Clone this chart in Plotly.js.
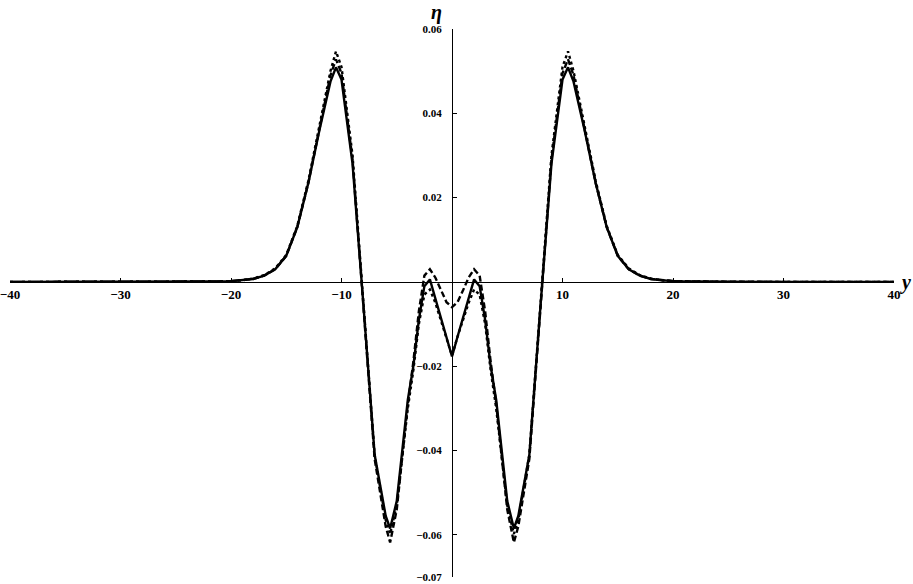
<!DOCTYPE html>
<html>
<head>
<meta charset="utf-8">
<script src="https://cdn.plot.ly/plotly-3.0.1.min.js"></script>
<style>
  html, body { margin: 0; padding: 0; background: #fff; }
  #graph { width: 913px; height: 584px; }
</style>
</head>
<body>
<div id="graph"></div>
<script>
// y の値（共通の横軸）
const yPos = [-40, -35, -30, -25, -22, -20, -19, -18, -17, -16, -15, -14, -13, -12, -11, -10.5, -10, -9, -8, -7, -6, -5.6, -5, -4, -3.5, -3, -2.5, -2, -1.5, -1, -0.5, 0,
  0.5, 1, 1.5, 2, 2.5, 3, 3.5, 4, 5, 5.6, 6, 7, 8, 9, 10, 10.5, 11, 12, 13, 14, 15, 16, 17, 18, 19, 20, 22, 25, 30, 35, 40];

// 実線
const etaSolid = [0, 0, 0, 0, 0.0001, 0.0002, 0.0004, 0.0007, 0.0015, 0.003, 0.0062, 0.013, 0.0235, 0.036, 0.0475, 0.0509, 0.048, 0.028, -0.006, -0.041, -0.0555, -0.0585, -0.052, -0.028, -0.02, -0.009, -0.001, 0.0006, -0.004, -0.0085, -0.013, -0.0177,
  -0.013, -0.0085, -0.004, 0.0006, -0.001, -0.009, -0.02, -0.028, -0.052, -0.0585, -0.0555, -0.041, -0.006, 0.028, 0.048, 0.0509, 0.0475, 0.036, 0.0235, 0.013, 0.0062, 0.003, 0.0015, 0.0007, 0.0004, 0.0002, 0.0001, 0, 0, 0, 0];

// 破線
const etaDashed = [0, 0, 0, 0, 0.0001, 0.0002, 0.0004, 0.0007, 0.0015, 0.003, 0.0062, 0.013, 0.0235, 0.036, 0.049, 0.0528, 0.0495, 0.029, -0.006, -0.042, -0.058, -0.0618, -0.054, -0.029, -0.019, -0.007, 0.0015, 0.003, 0.001, -0.002, -0.0048, -0.006,
  -0.0048, -0.002, 0.001, 0.003, 0.0015, -0.007, -0.019, -0.029, -0.054, -0.0618, -0.058, -0.042, -0.006, 0.029, 0.0495, 0.0528, 0.049, 0.036, 0.0235, 0.013, 0.0062, 0.003, 0.0015, 0.0007, 0.0004, 0.0002, 0.0001, 0, 0, 0, 0];

// 点線
const etaDotted = [0, 0, 0, 0, 0.0001, 0.0002, 0.0004, 0.0008, 0.0016, 0.0032, 0.0064, 0.0133, 0.024, 0.037, 0.050, 0.0547, 0.051, 0.030, -0.006, -0.041, -0.0565, -0.0598, -0.053, -0.030, -0.021, -0.010, -0.003, -0.0018, -0.005, -0.009, -0.013, -0.0175,
  -0.013, -0.009, -0.005, -0.0018, -0.003, -0.010, -0.021, -0.030, -0.053, -0.0598, -0.0565, -0.041, -0.006, 0.030, 0.051, 0.0547, 0.050, 0.037, 0.024, 0.0133, 0.0064, 0.0032, 0.0016, 0.0008, 0.0004, 0.0002, 0.0001, 0, 0, 0, 0];

// 目盛り
const xTicks = [-40, -30, -20, -10, 10, 20, 30, 40];
const xTickText = ["\u221240", "\u221230", "\u221220", "\u221210", "10", "20", "30", "40"];
const yTicks = [-0.07, -0.06, -0.04, -0.02, 0.02, 0.04, 0.06];
const yTickText = ["\u22120.07", "\u22120.06", "\u22120.04", "\u22120.02", "0.02", "0.04", "0.06"];

const serif = "Liberation Serif, DejaVu Serif, serif";

function curve(yv, dash) {
  return {
    x: yPos,
    y: yv,
    mode: "lines",
    type: "scatter",
    line: { color: "black", width: 2.4, dash: dash },
    hoverinfo: "skip",
  };
}

const data = [
  curve(etaDotted, "dot"),
  curve(etaDashed, "6px,3px"),
  curve(etaSolid, "solid"),
];

const layout = {
  width: 913,
  height: 584,
  margin: { l: 10, r: 19, t: 29, b: 7 },
  paper_bgcolor: "white",
  plot_bgcolor: "white",
  showlegend: false,
  xaxis: {
    range: [-40, 40],
    anchor: "free",
    position: 0.07 / 0.13,
    showgrid: false,
    zeroline: false,
    showline: true,
    linecolor: "black",
    linewidth: 1.2,
    ticks: "inside",
    ticklen: 4,
    tickcolor: "black",
    tickvals: xTicks,
    ticktext: xTickText,
    ticklabeloverflow: "allow",
    tickfont: { family: serif, size: 13, color: "black", weight: "bold" },
    automargin: false,
  },
  yaxis: {
    range: [-0.07, 0.06],
    anchor: "free",
    position: 0.5,
    showgrid: false,
    zeroline: false,
    showline: true,
    linecolor: "black",
    linewidth: 1.2,
    ticks: "inside",
    ticklen: 4,
    tickcolor: "black",
    tickvals: yTicks,
    ticktext: yTickText,
    ticklabelstandoff: 8,
    ticklabeloverflow: "allow",
    tickfont: { family: serif, size: 11, color: "black", weight: "bold" },
    automargin: false,
  },
  annotations: [
    {
      text: "<b><i>η</i></b>", x: 0.483, y: 1.031, xref: "paper", yref: "paper",
      xanchor: "center", yanchor: "middle",
      showarrow: false, font: { family: serif, size: 20, color: "black" },
    },
    {
      text: "<b><i>y</i></b>", x: 1.0125, y: 0.538, xref: "paper", yref: "paper",
      xanchor: "center", yanchor: "middle",
      showarrow: false, font: { family: serif, size: 20, color: "black" },
    },
  ],
};

Plotly.newPlot("graph", data, layout, { staticPlot: true });
</script>
</body>
</html>
